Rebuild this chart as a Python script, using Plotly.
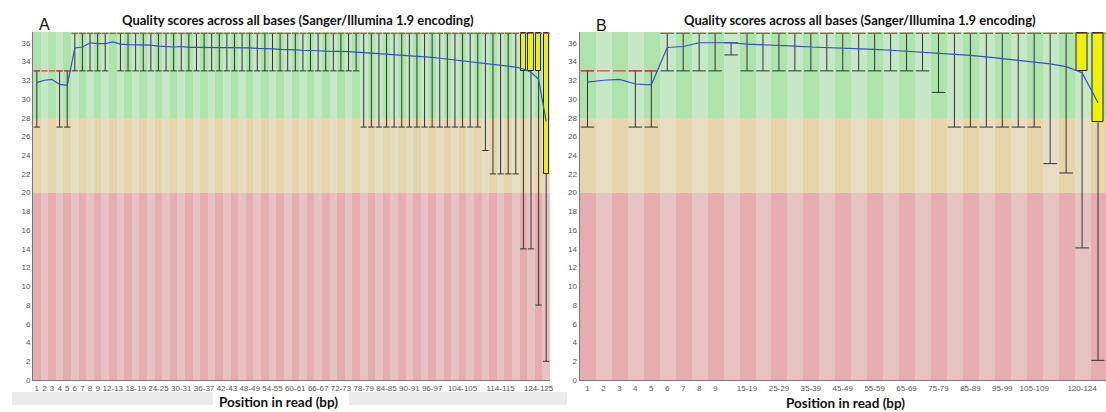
import plotly.graph_objects as go

W, H = 1106, 412

# ---------------- Panel A data ----------------
cats_A = ["1", "2", "3", "4", "5", "6", "7", "8", "9", "10-11", "12-13", "14-15", "16-17",
          "18-19", "20-21", "22-23", "24-25", "26-27", "28-29", "30-31", "32-33", "34-35",
          "36-37", "38-39", "40-41", "42-43", "44-45", "46-47", "48-49", "50-51", "52-53",
          "54-55", "56-57", "58-59", "60-61", "62-63", "64-65", "66-67", "68-69", "70-71",
          "72-73", "74-75", "76-77", "78-79", "80-81", "82-83", "84-85", "86-87", "88-89",
          "90-91", "92-93", "94-95", "96-97", "98-99", "100-101", "102-103", "104-105",
          "106-107", "108-109", "110-111", "112-113", "114-115", "116-117", "118-119",
          "120-121", "122-123", "124-125", "126"]
ticks_A = ["1", "2", "3", "4", "5", "6", "7", "8", "9", "12-13", "18-19", "24-25", "30-31",
           "36-37", "42-43", "48-49", "54-55", "60-61", "66-67", "72-73", "78-79", "84-85",
           "90-91", "96-97", "104-105", "114-115", "124-125"]
mean_A = [31.75, 32.0, 32.1, 31.55, 31.45, 35.45, 35.55, 36.0, 35.9, 35.9, 36.1, 35.85, 35.8,
          35.8, 35.75, 35.75, 35.65, 35.6, 35.55, 35.6, 35.5, 35.5, 35.5, 35.5, 35.5, 35.5,
          35.5, 35.5, 35.45, 35.4, 35.4, 35.35, 35.3, 35.3, 35.25, 35.2, 35.2, 35.15, 35.1,
          35.1, 35.05, 35.05, 35.0, 34.95, 34.9, 34.85, 34.8, 34.75, 34.7, 34.65, 34.6, 34.5,
          34.45, 34.35, 34.25, 34.15, 34.1, 34.0, 33.9, 33.8, 33.7, 33.6, 33.5, 33.4, 33.2,
          32.85, 32.1, 27.6]
median_A = [33, 33, 33, 33, 33] + [37] * 63
lower_A = ([27, 33, 33, 27, 27] + [33] * 5 + [37] + [33] * 32 + [27] * 16 +
           [24.5, 22, 22, 22, 22, 14, 14, 8, 2])
upper_A = [33] * 5 + [37] * 63
q1_A = [33] * 5 + [37] * 59 + [33, 33, 33, 22]
q3_A = [33] * 5 + [37] * 63

# ---------------- Panel B data ----------------
cats_B = ["1", "2", "3", "4", "5", "6", "7", "8", "9", "10-14", "15-19", "20-24", "25-29",
          "30-34", "35-39", "40-44", "45-49", "50-54", "55-59", "60-64", "65-69", "70-74",
          "75-79", "80-84", "85-89", "90-94", "95-99", "100-104", "105-109", "110-114",
          "115-119", "120-124", "125"]
ticks_B = ["1", "2", "3", "4", "5", "6", "7", "8", "9", "15-19", "25-29", "35-39", "45-49",
           "55-59", "65-69", "75-79", "85-89", "95-99", "105-109", "120-124"]
mean_B = [31.8, 32.0, 32.1, 31.6, 31.5, 35.5, 35.6, 36.0, 36.0, 36.0, 35.85, 35.8, 35.75,
          35.65, 35.55, 35.5, 35.45, 35.4, 35.3, 35.2, 35.1, 35.0, 34.9, 34.8, 34.65, 34.5,
          34.3, 34.1, 33.95, 33.75, 33.45, 32.8, 29.6]
median_B = [33] * 5 + [37] * 28
lower_B = ([27, 33, 33, 27, 27] + [33] * 4 + [34.7] + [33] * 12 + [30.7] + [27] * 6 +
           [23.1, 22.1, 14.1, 2.1])
upper_B = [33] * 5 + [37] * 4 + [36] + [37] * 23
q1_B = [33] * 5 + [37] * 4 + [36] + [37] * 21 + [33, 27.5]
q3_B = [33] * 5 + [37] * 4 + [36] + [37] * 23

TITLE = "Quality scores across all bases (Sanger/Illumina 1.9 encoding)"
XTITLE = "Position in read (bp)"

# quality zones (FastQC): bad 0-20, ok 20-28, good 28-top
YMAX = 37.15
ZONES = [(0, 20, "rgb(230,172,176)", "rgb(230,195,195)"),
         (20, 28, "rgb(230,214,172)", "rgb(230,221,196)"),
         (28, YMAX, "rgb(172,228,172)", "rgb(198,232,198)")]

fig = go.Figure()


def add_panel(xa, ya, cats, mean, median, lower, upper, q1, q3):
    n = len(cats)
    xs = list(range(n))
    for lo, hi, dark, light in ZONES:
        fig.add_trace(go.Bar(x=xs, y=[hi - lo] * n, base=[lo] * n, width=1.0,
                             marker=dict(color=[dark if i % 2 == 0 else light for i in xs],
                                         line=dict(width=0)),
                             hoverinfo="skip", showlegend=False, xaxis=xa, yaxis=ya))
    # boxes (Q1..Q3)
    hts = [(b - a) if b > a else None for a, b in zip(q1, q3)]
    fig.add_trace(go.Bar(x=xs, y=hts, base=q1, width=0.7,
                         marker=dict(color="rgb(240,240,0)", line=dict(color="#222", width=1)),
                         showlegend=False, xaxis=xa, yaxis=ya))
    # whiskers
    wx, wy, cx, cy = [], [], [], []
    for i in xs:
        if lower[i] < q1[i]:
            wx += [i, i, None]
            wy += [lower[i], q1[i], None]
        if upper[i] > q3[i]:
            wx += [i, i, None]
            wy += [q3[i], upper[i], None]
        if lower[i] < upper[i]:
            for v in (lower[i], upper[i]):
                cx += [i - 0.42, i + 0.42, None]
                cy += [v, v, None]
    fig.add_trace(go.Scatter(x=wx, y=wy, mode="lines", line=dict(color="#333", width=1),
                             hoverinfo="skip", showlegend=False, xaxis=xa, yaxis=ya))
    fig.add_trace(go.Scatter(x=cx, y=cy, mode="lines", line=dict(color="#333", width=1),
                             hoverinfo="skip", showlegend=False, xaxis=xa, yaxis=ya))
    # medians
    mx, my = [], []
    for i in xs:
        mx += [i - 0.4, i + 0.4, None]
        my += [median[i], median[i], None]
    fig.add_trace(go.Scatter(x=mx, y=my, mode="lines", line=dict(color="rgb(215,70,70)", width=1.3),
                             hoverinfo="skip", showlegend=False, xaxis=xa, yaxis=ya))
    # mean
    fig.add_trace(go.Scatter(x=xs, y=mean, mode="lines", line=dict(color="rgb(50,80,200)", width=1.2),
                             showlegend=False, xaxis=xa, yaxis=ya))


add_panel("x", "y", cats_A, mean_A, median_A, lower_A, upper_A, q1_A, q3_A)
add_panel("x2", "y2", cats_B, mean_B, median_B, lower_B, upper_B, q1_B, q3_B)

y_bot = 1 - 380 / H
y_top = 1 - 32 / H
tickfont = dict(family="Liberation Sans, Arial, sans-serif", size=8, color="#555")


def xaxis(dom, cats, ticks):
    return dict(domain=dom, range=[-0.5, len(cats) - 0.5], tickvals=[cats.index(t) for t in ticks],
                ticktext=ticks, showline=True, linecolor="#777", linewidth=1, ticks="",
                showgrid=False, zeroline=False, tickfont=tickfont, automargin=False, tickangle=0)


def yaxis(xanchor):
    return dict(domain=[y_bot, y_top], range=[0, YMAX], tickvals=list(range(0, 37, 2)),
                showline=True, linecolor="#777", linewidth=1, ticks="", showgrid=False,
                zeroline=False, tickfont=tickfont, anchor=xanchor, automargin=False)


fig.update_layout(
    width=W, height=H, margin=dict(l=0, r=0, t=0, b=0),
    paper_bgcolor="white", plot_bgcolor="white", barmode="overlay", bargap=0,
    xaxis=xaxis([33 / W, 550 / W], cats_A, ticks_A),
    xaxis2=xaxis([579.5 / W, 1.0], cats_B, ticks_B),
    yaxis=yaxis("x"),
    yaxis2=yaxis("x2"),
    shapes=[
        dict(type="rect", xref="paper", yref="paper", x0=12 / W, x1=213 / W,
             y0=1 - 405 / H, y1=1 - 392 / H, fillcolor="#ebebeb", line=dict(width=0), layer="below"),
        dict(type="rect", xref="paper", yref="paper", x0=349 / W, x1=567 / W,
             y0=1 - 405 / H, y1=1 - 392 / H, fillcolor="#ebebeb", line=dict(width=0), layer="below"),
    ],
)

tfont = dict(family="Lato, Open Sans, sans-serif", size=13, color="#111")
ann = [
    dict(text="<b>" + TITLE + "</b>", x=298 / W, y=1 - 20 / H, font=tfont),
    dict(text="<b>" + TITLE + "</b>", x=860 / W, y=1 - 20 / H, font=tfont),
    dict(text="<b>" + XTITLE + "</b>", x=278 / W, y=1 - 402 / H, font=dict(tfont, size=13.5)),
    dict(text="<b>" + XTITLE + "</b>", x=845 / W, y=1 - 403 / H, font=dict(tfont, size=13.5)),
    dict(text="A", x=44 / W, y=1 - 25 / H, font=dict(family="Liberation Sans, Arial", size=16, color="#111")),
    dict(text="B", x=601 / W, y=1 - 26 / H, font=dict(family="Liberation Sans, Arial", size=16, color="#111")),
]
for a in ann:
    a.update(xref="paper", yref="paper", showarrow=False, xanchor="center", yanchor="middle")
fig.update_layout(annotations=ann)

fig.write_html("out.html", config={"displayModeBar": False},
               post_script="document.body.style.margin='0';document.body.style.overflow='hidden';")
